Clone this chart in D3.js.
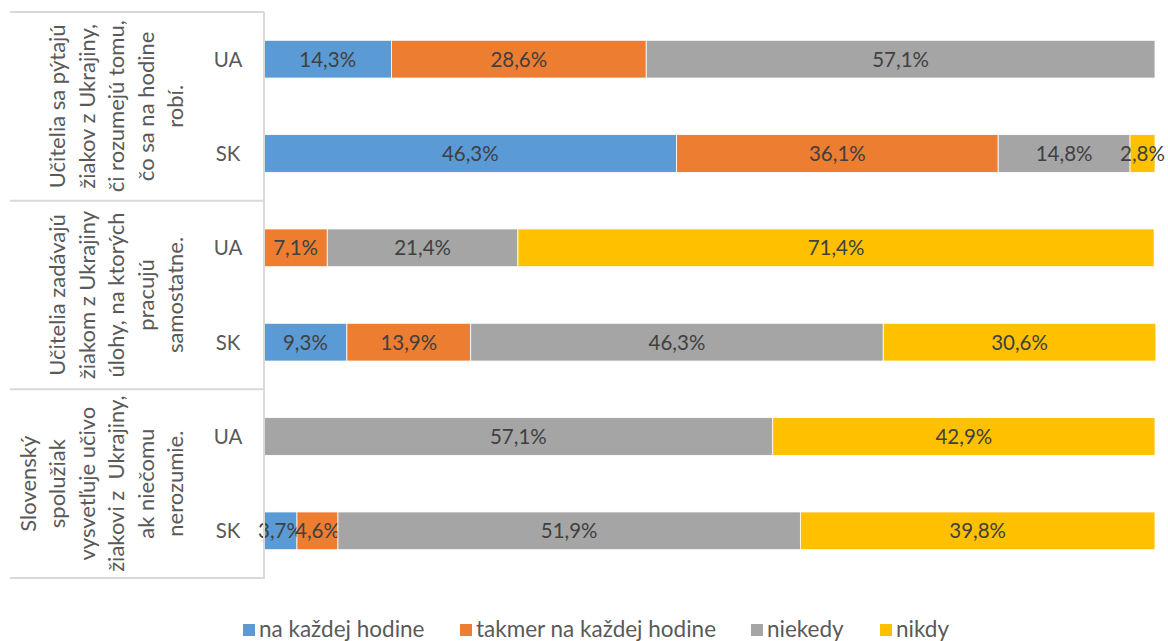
<!DOCTYPE html>
<html>
<head>
<meta charset="utf-8">
<script src="https://cdn.jsdelivr.net/npm/d3@7"></script>
<style>
  body { margin: 0; background: #fff; }
  svg text { font-family: Lato, "Open Sans", sans-serif; }
</style>
</head>
<body>
<svg id="chart" width="1168" height="641"></svg>
<script>
// data
var series = ["na každej hodine", "takmer na každej hodine", "niekedy", "nikdy"];
var colors = ["#5B9BD5", "#ED7D31", "#A5A5A5", "#FFC000"];
var rows = ["UA", "SK", "UA", "SK", "UA", "SK"];
var groups = [
  ["Učitelia sa pýtajú", "žiakov z Ukrajiny,", "či rozumejú tomu,", "čo sa na hodine", "robí."],
  ["Učitelia zadávajú", "žiakom z Ukrajiny", "úlohy, na ktorých", "pracujú", "samostatne."],
  ["Slovenský", "spolužiak", "vysvetľuje učivo", "žiakovi z  Ukrajiny,", "ak niečomu", "nerozumie."]
];
var naKazdej = [14.3, 46.3, 0, 9.3, 0, 3.7];
var takmer = [28.6, 36.1, 7.1, 13.9, 0, 4.6];
var niekedy = [57.1, 14.8, 21.4, 46.3, 57.1, 51.9];
var nikdy = [0, 2.8, 71.4, 30.6, 42.9, 39.8];

var values = [naKazdej, takmer, niekedy, nikdy];
var table = rows.map(function(r, i) {
  var o = { id: i, row: r };
  series.forEach(function(s, j) { o[s] = values[j][i]; });
  return o;
});

var svg = d3.select("#chart");
var plotL = 264, plotR = 1155, plotT = 12, plotB = 578;

var x = d3.scaleLinear().domain([0, 100]).range([plotL, plotR]);
var y = d3.scaleBand().domain(d3.range(rows.length)).range([plotT, plotB]).paddingInner(0.6).paddingOuter(0.3);
var color = d3.scaleOrdinal().domain(series).range(colors);

var stack = d3.stack().keys(series);
var layers = stack(table);

// bars
var layer = svg.append("g").selectAll("g")
  .data(layers)
  .enter().append("g")
    .attr("fill", function(d) { return color(d.key); });

layer.selectAll("rect")
  .data(function(d) { return d; })
  .enter().append("rect")
    .attr("x", function(d) { return x(d[0]); })
    .attr("y", function(d, i) { return y(i); })
    .attr("width", function(d) { return x(d[1]) - x(d[0]); })
    .attr("height", y.bandwidth())
    .attr("stroke", "#fff")
    .attr("stroke-width", 0.8);

// value labels
layer.selectAll("text")
  .data(function(d) { return d.filter(function(v) { return v[1] - v[0] > 0; }); })
  .enter().append("text")
    .attr("x", function(d) { return (x(d[0]) + x(d[1])) / 2; })
    .attr("y", function(d) { return y(d.data.id) + y.bandwidth() / 2; })
    .attr("dy", "0.36em")
    .attr("text-anchor", "middle")
    .attr("font-size", 20.5)
    .attr("fill", "#404040")
    .text(function(d) { return d3.format(".1f")(d[1] - d[0]).replace(".", ",") + "%"; });

// category axis
var axis = svg.append("g");
var grpH = (plotB - plotT) / groups.length;
axis.append("line")
  .attr("x1", plotL).attr("x2", plotL)
  .attr("y1", plotT).attr("y2", plotB + 1)
  .attr("stroke", "#d9d9d9").attr("stroke-width", 2);

d3.range(groups.length + 1).forEach(function(g) {
  axis.append("line")
    .attr("x1", 10).attr("x2", plotL)
    .attr("y1", plotT + g * grpH).attr("y2", plotT + g * grpH)
    .attr("stroke", "#d9d9d9").attr("stroke-width", 2);
});

axis.selectAll(".rowLbl")
  .data(rows)
  .enter().append("text")
    .attr("class", "rowLbl")
    .attr("x", 228)
    .attr("y", function(d, i) { return y(i) + y.bandwidth() / 2; })
    .attr("dy", "0.36em")
    .attr("text-anchor", "middle")
    .attr("font-size", 20.5)
    .attr("fill", "#595959")
    .text(function(d) { return d; });

// group labels, rotated
groups.forEach(function(lines, g) {
  var cy = plotT + (g + 0.5) * grpH;
  var n = lines.length;
  var t = axis.append("text")
    .attr("transform", "translate(0," + cy + ") rotate(-90)")
    .attr("text-anchor", "middle")
    .attr("font-size", 22)
    .attr("fill", "#595959");
  lines.forEach(function(l, k) {
    t.append("tspan")
      .attr("x", 0)
      .attr("y", 175 - (n - 1 - k) * 29.4)
      .attr("dy", "0.36em")
      .style("white-space", "pre")
      .text(l);
  });
});

// legend
var legendX = [243, 460, 751, 880];
var legend = svg.append("g").selectAll("g")
  .data(series)
  .enter().append("g")
    .attr("transform", function(d, i) { return "translate(" + legendX[i] + ",629)"; });

legend.append("rect")
  .attr("x", 0).attr("y", -5)
  .attr("width", 12).attr("height", 12)
  .attr("fill", function(d) { return color(d); });

legend.append("text")
  .attr("x", 16)
  .attr("dy", "0.36em")
  .attr("font-size", 22.5)
  .attr("fill", "#595959")
  .text(function(d) { return d; });
</script>
</body>
</html>
